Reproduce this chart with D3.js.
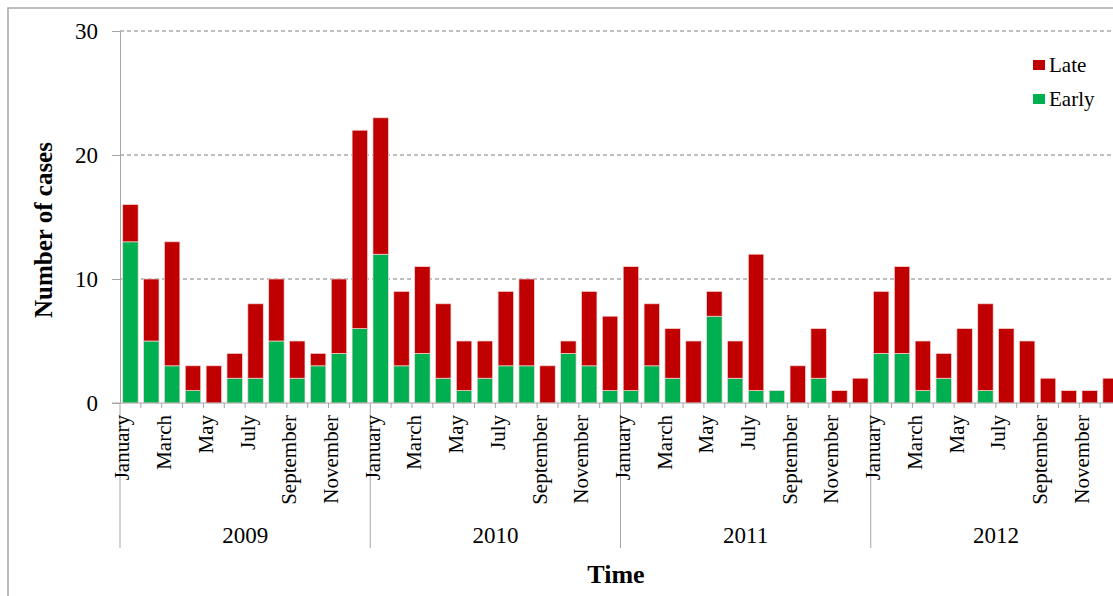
<!DOCTYPE html>
<html>
<head>
<meta charset="utf-8">
<script src="https://cdn.jsdelivr.net/npm/d3@7"></script>
<style>
  body { margin: 0; background: #fff; }
  svg { display: block; font-family: "Liberation Serif", "Times New Roman", serif; }
</style>
</head>
<body>
<div class="chart"></div>
<script>
// monthly cases, early vs late (totals)
var years = ['2009', '2010', '2011', '2012'];
var months = ['January', 'February', 'March', 'April', 'May', 'June', 'July',
              'August', 'September', 'October', 'November', 'December'];

var early = [13, 5, 3, 1, 0, 2, 2, 5, 2, 3, 4, 6,
             12, 3, 4, 2, 1, 2, 3, 3, 0, 4, 3, 1,
             1, 3, 2, 0, 7, 2, 1, 1, 0, 2, 0, 0,
             4, 4, 1, 2, 0, 1, 0, 0, 0, 0, 0, 0];
var late = [3, 5, 10, 2, 3, 2, 6, 5, 3, 1, 6, 16,
            11, 6, 7, 6, 4, 3, 6, 7, 3, 1, 6, 6,
            10, 5, 4, 5, 2, 3, 11, 0, 3, 4, 1, 2,
            5, 7, 4, 2, 6, 7, 6, 5, 2, 1, 1, 2];
var yTicks = [0, 10, 20, 30];

var W = 1113, H = 596;
var plot = { left: 120, right: 1121, top: 31, bottom: 403 };

var svg = d3.select('.chart').append('svg')
  .attr('width', W)
  .attr('height', H);

// outer chart frame
svg.append('rect')
  .attr('x', 8).attr('y', 8)
  .attr('width', W + 20).attr('height', H + 20)
  .attr('fill', 'none')
  .attr('stroke', '#a6a6a6')
  .attr('stroke-width', 1.5);

var data = early.map(function(e, i) {
  return { i: i, year: years[Math.floor(i / 12)], month: months[i % 12], early: e, late: late[i] };
});

var x = d3.scaleBand()
  .domain(data.map(function(d) { return d.i; }))
  .range([plot.left, plot.right])
  .paddingInner(0.26)
  .paddingOuter(0.13);

var y = d3.scaleLinear().domain([0, 30]).range([plot.bottom, plot.top]);

// gridlines
svg.append('g').selectAll('line.grid')
  .data(yTicks.filter(function(t) { return t > 0; }))
  .enter().append('line')
  .attr('class', 'grid')
  .attr('x1', plot.left).attr('x2', plot.right)
  .attr('y1', function(t) { return y(t); })
  .attr('y2', function(t) { return y(t); })
  .attr('stroke', '#7f7f7f')
  .attr('stroke-width', 1)
  .attr('stroke-dasharray', '4,3');

// y axis
var yAxis = svg.append('g')
  .attr('transform', 'translate(' + plot.left + ',0)')
  .call(d3.axisLeft(y).tickValues(yTicks).tickSize(8).tickPadding(14));
yAxis.select('.domain').attr('stroke', '#a6a6a6');
yAxis.selectAll('.tick line').attr('stroke', '#a6a6a6');
yAxis.selectAll('.tick text')
  .attr('font-family', '"Liberation Serif", serif')
  .attr('font-size', 23)
  .attr('fill', '#000');

// stacked bars
var stack = d3.stack().keys(['early', 'late'])(data);
var colors = { early: '#00b050', late: '#c00000' };

svg.append('g').selectAll('g.series')
  .data(stack)
  .enter().append('g')
  .attr('class', 'series')
  .attr('fill', function(s) { return colors[s.key]; })
  .selectAll('rect')
  .data(function(s) { return s.filter(function(d) { return d[1] > d[0]; }); })
  .enter().append('rect')
  .attr('x', function(d) { return x(d.data.i); })
  .attr('width', x.bandwidth())
  .attr('y', function(d) { return y(d[1]); })
  .attr('height', function(d) { return y(d[0]) - y(d[1]); })
  .attr('stroke', '#f4d6d6')
  .attr('stroke-width', 0.7);

// x axis line + small ticks at band boundaries
var step = x.step();
svg.append('line')
  .attr('x1', plot.left - 8).attr('x2', plot.right)
  .attr('y1', plot.bottom).attr('y2', plot.bottom)
  .attr('stroke', '#a6a6a6');

svg.append('g').selectAll('line.mtick')
  .data(d3.range(0, 49))
  .enter().append('line')
  .attr('class', 'mtick')
  .attr('x1', function(k) { return plot.left + k * step; })
  .attr('x2', function(k) { return plot.left + k * step; })
  .attr('y1', plot.bottom)
  .attr('y2', function(k) { return k % 12 === 0 ? 548 : plot.bottom + 5; })
  .attr('stroke', '#a6a6a6');

// month labels (odd months only)
svg.append('g').selectAll('text.month')
  .data(data.filter(function(d) { return d.i % 2 === 0; }))
  .enter().append('text')
  .attr('class', 'month')
  .attr('transform', function(d) {
    return 'translate(' + (x(d.i) + x.bandwidth() / 2 - 1) + ',' + (plot.bottom + 12) + ') rotate(-90)';
  })
  .attr('text-anchor', 'end')
  .attr('font-size', 21)
  .text(function(d) { return d.month; });

// year labels
svg.append('g').selectAll('text.year')
  .data(years)
  .enter().append('text')
  .attr('class', 'year')
  .attr('x', function(yr, k) { return plot.left + (k * 12 + 6) * step; })
  .attr('y', 543)
  .attr('text-anchor', 'middle')
  .attr('font-size', 23)
  .text(function(yr) { return yr; });

// axis titles
svg.append('text')
  .attr('transform', 'translate(52,230) rotate(-90)')
  .attr('text-anchor', 'middle')
  .attr('font-size', 25)
  .attr('font-weight', 'bold')
  .text('Number of cases');

svg.append('text')
  .attr('x', 616).attr('y', 583)
  .attr('text-anchor', 'middle')
  .attr('font-size', 26)
  .attr('font-weight', 'bold')
  .text('Time');

// legend
var legendKeys = ['late', 'early'];
var legendNames = { late: 'Late', early: 'Early' };
var legend = svg.append('g').selectAll('g.legend')
  .data(legendKeys)
  .enter().append('g')
  .attr('class', 'legend')
  .attr('transform', function(k, i) { return 'translate(1033,' + (60 + i * 34) + ')'; });
legend.append('rect')
  .attr('width', 12).attr('height', 10)
  .attr('fill', function(k) { return colors[k]; });
legend.append('text')
  .attr('x', 16).attr('y', 12)
  .attr('font-size', 21)
  .text(function(k) { return legendNames[k]; });
</script>
</body>
</html>
